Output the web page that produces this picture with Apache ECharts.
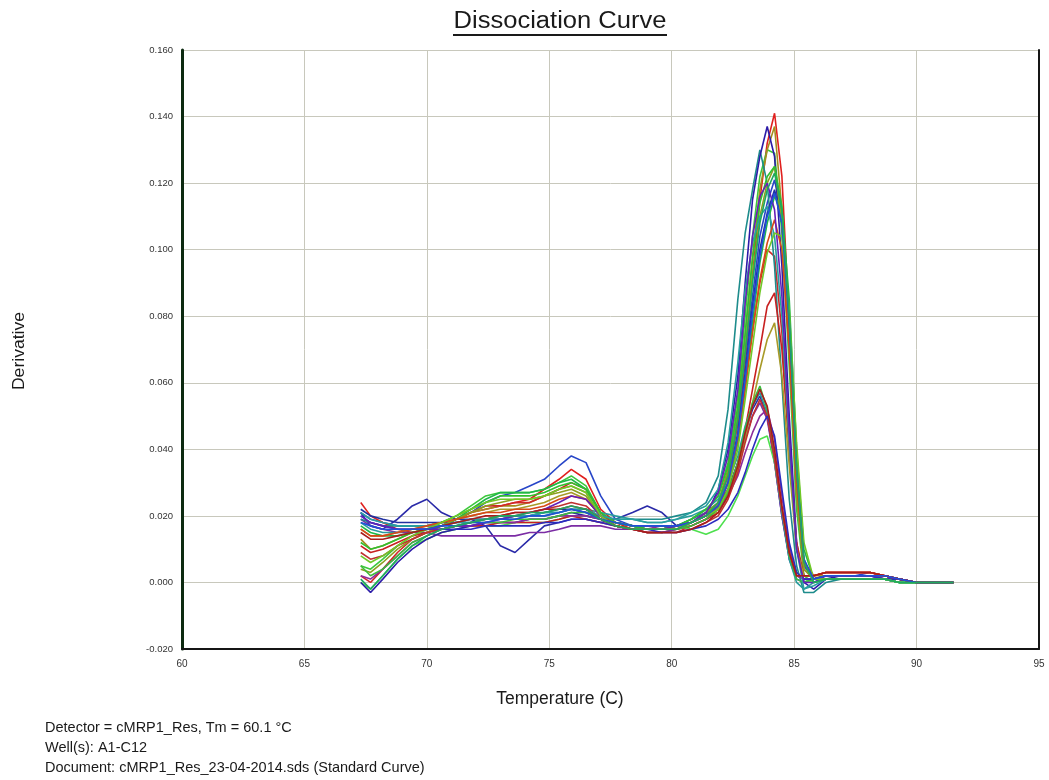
<!DOCTYPE html>
<html>
<head>
<meta charset="utf-8">
<title>Dissociation Curve</title>
<script src="https://cdn.jsdelivr.net/npm/echarts@6/dist/echarts.min.js"></script>
<style>
  html, body { margin: 0; padding: 0; background: #ffffff; }
  #chart { width: 1049px; height: 780px; }
</style>
</head>
<body>
<div id="chart"></div>
<script>
// Melt temperatures (°C) at which the derivative was sampled
const temps = [67.3, 67.7, 68.2, 68.8, 69.4, 70.0, 70.6, 71.2, 71.8, 72.4, 73.0, 73.6, 74.2, 74.8, 75.4, 75.9, 76.5, 77.1, 77.7, 78.4, 79.0, 79.6, 80.2, 80.8, 81.4,
               81.9, 82.3, 82.7, 83.0, 83.3, 83.6, 83.9, 84.2, 84.5, 84.8, 85.1, 85.4, 85.8, 86.3, 86.9, 87.5, 88.1, 88.7, 89.3, 90.0, 90.7, 91.5];

// Axis ticks
const xTicks = [60, 65, 70, 75, 80, 85, 90, 95];
const yTicks = [-0.020, 0.000, 0.020, 0.040, 0.060, 0.080, 0.100, 0.120, 0.140, 0.160];

// Derivative per well
const well01 = [0.021,0.019,0.018,0.017,0.017,0.017,0.018,0.019,0.021,0.024,0.026,0.027,0.029,0.031,0.035,0.038,0.036,0.026,0.019,0.017,0.016,0.016,0.017,0.019,0.021,
                0.024,0.032,0.048,0.066,0.086,0.104,0.114,0.121,0.110,0.075,0.030,0.005,0.001,0.002,0.002,0.002,0.003,0.002,0.001,0.000,0.000,0.000];
const well02 = [0.021,0.017,0.016,0.019,0.023,0.025,0.021,0.019,0.019,0.017,0.011,0.009,0.013,0.017,0.018,0.019,0.019,0.018,0.019,0.021,0.023,0.021,0.017,0.018,0.020,
                0.023,0.028,0.036,0.045,0.052,0.056,0.050,0.036,0.020,0.007,0.001,0.000,0.001,0.002,0.002,0.002,0.002,0.001,0.001,0.000,0.000,0.000];
const well03 = [0.024,0.020,0.018,0.016,0.015,0.016,0.017,0.019,0.021,0.022,0.023,0.024,0.025,0.028,0.031,0.034,0.031,0.022,0.018,0.016,0.015,0.015,0.016,0.018,0.020,
                0.024,0.032,0.048,0.068,0.092,0.115,0.132,0.141,0.122,0.078,0.030,0.006,0.002,0.003,0.003,0.003,0.003,0.002,0.001,0.000,0.000,0.000];
const well04 = [0.005,0.004,0.007,0.011,0.014,0.016,0.018,0.020,0.023,0.026,0.027,0.027,0.027,0.028,0.030,0.032,0.029,0.021,0.017,0.016,0.015,0.015,0.016,0.018,0.021,
                0.026,0.036,0.056,0.080,0.104,0.122,0.130,0.129,0.105,0.065,0.022,0.002,0.000,0.001,0.001,0.001,0.001,0.001,0.000,0.000,0.000,0.000];
const well05 = [0.013,0.010,0.011,0.013,0.015,0.016,0.017,0.019,0.021,0.022,0.023,0.023,0.024,0.026,0.028,0.029,0.027,0.020,0.017,0.016,0.016,0.016,0.017,0.018,0.021,
                0.024,0.034,0.052,0.074,0.098,0.118,0.130,0.137,0.112,0.070,0.026,0.004,0.001,0.002,0.002,0.002,0.002,0.002,0.001,0.000,0.000,0.000];
const well06 = [0.002,0.000,0.004,0.009,0.013,0.015,0.017,0.019,0.021,0.023,0.023,0.024,0.024,0.026,0.028,0.030,0.028,0.021,0.017,0.016,0.015,0.015,0.015,0.017,0.019,
                0.022,0.030,0.044,0.060,0.076,0.090,0.100,0.098,0.075,0.040,0.010,0.002,0.002,0.003,0.003,0.003,0.003,0.002,0.001,0.000,0.000,0.000];
const well07 = [0.019,0.017,0.016,0.015,0.015,0.015,0.014,0.014,0.014,0.014,0.014,0.014,0.015,0.015,0.016,0.017,0.017,0.017,0.016,0.016,0.015,0.015,0.016,0.017,0.019,
                0.021,0.026,0.034,0.043,0.050,0.054,0.049,0.036,0.020,0.008,0.002,0.001,0.001,0.002,0.002,0.002,0.002,0.001,0.001,0.000,0.000,0.000];
const well08 = [0.019,0.018,0.017,0.017,0.017,0.017,0.018,0.018,0.018,0.019,0.019,0.019,0.020,0.020,0.021,0.022,0.021,0.020,0.019,0.019,0.019,0.019,0.020,0.021,0.024,
                0.032,0.052,0.085,0.105,0.118,0.130,0.120,0.095,0.060,0.025,0.005,-0.003,-0.003,0.000,0.001,0.001,0.001,0.001,0.000,0.000,0.000,0.000];
const well09 = [0.000,-0.002,0.002,0.007,0.011,0.013,0.015,0.016,0.017,0.017,0.017,0.018,0.018,0.018,0.019,0.020,0.020,0.019,0.018,0.017,0.017,0.017,0.017,0.016,0.0145,
                0.016,0.020,0.026,0.032,0.038,0.043,0.044,0.036,0.022,0.010,0.003,0.001,0.000,0.001,0.001,0.001,0.001,0.001,0.000,0.000,0.000,0.000];
const well10 = [0.000,-0.003,0.001,0.006,0.010,0.013,0.015,0.016,0.017,0.018,0.018,0.018,0.019,0.019,0.020,0.021,0.020,0.019,0.018,0.017,0.016,0.016,0.017,0.018,0.020,
                0.028,0.040,0.062,0.090,0.115,0.128,0.137,0.128,0.095,0.050,0.012,0.000,-0.002,0.001,0.002,0.002,0.002,0.002,0.001,0.000,0.000,0.000];
const well11 = [0.011,0.009,0.010,0.012,0.014,0.015,0.016,0.017,0.017,0.017,0.018,0.018,0.018,0.018,0.019,0.020,0.019,0.018,0.017,0.016,0.016,0.016,0.016,0.017,0.019,
                0.021,0.027,0.036,0.046,0.058,0.070,0.083,0.087,0.070,0.040,0.012,0.002,0.002,0.003,0.003,0.003,0.003,0.002,0.001,0.000,0.000,0.000];
const well12 = [0.022,0.020,0.019,0.018,0.018,0.018,0.018,0.018,0.019,0.019,0.019,0.020,0.020,0.021,0.022,0.022,0.021,0.019,0.018,0.017,0.017,0.017,0.017,0.018,0.020,
                0.023,0.030,0.045,0.063,0.083,0.100,0.111,0.118,0.108,0.074,0.030,0.006,0.001,0.002,0.002,0.002,0.002,0.002,0.001,0.000,0.000,0.000];
const well13 = [0.017,0.015,0.014,0.014,0.015,0.016,0.017,0.019,0.022,0.025,0.027,0.027,0.027,0.028,0.030,0.031,0.028,0.021,0.018,0.017,0.016,0.016,0.017,0.019,0.022,
                0.022,0.028,0.042,0.058,0.078,0.096,0.108,0.116,0.112,0.085,0.040,0.010,0.001,0.001,0.001,0.001,0.001,0.001,0.000,0.000,0.000,0.000];
const well14 = [0.016,0.014,0.014,0.015,0.016,0.017,0.018,0.019,0.020,0.021,0.022,0.022,0.023,0.024,0.026,0.027,0.025,0.020,0.017,0.016,0.016,0.016,0.016,0.018,0.020,
                0.021,0.026,0.034,0.043,0.054,0.064,0.073,0.078,0.062,0.035,0.010,0.002,0.002,0.002,0.002,0.002,0.002,0.002,0.001,0.000,0.000,0.000];
const well15 = [0.002,0.001,0.004,0.008,0.012,0.014,0.016,0.017,0.017,0.018,0.018,0.018,0.019,0.019,0.020,0.020,0.020,0.019,0.018,0.017,0.017,0.016,0.017,0.018,0.021,
                0.022,0.026,0.032,0.039,0.045,0.050,0.052,0.043,0.026,0.011,0.002,0.001,0.001,0.002,0.002,0.002,0.002,0.001,0.001,0.000,0.000,0.000];
const well16 = [0.004,0.003,0.006,0.010,0.013,0.015,0.017,0.019,0.021,0.023,0.024,0.025,0.025,0.026,0.027,0.028,0.026,0.020,0.017,0.016,0.016,0.016,0.017,0.018,0.021,
                0.024,0.033,0.050,0.070,0.092,0.110,0.120,0.125,0.108,0.070,0.026,0.004,0.001,0.002,0.002,0.002,0.002,0.002,0.001,0.000,0.000,0.000];
const well17 = [0.018,0.016,0.015,0.015,0.016,0.016,0.017,0.018,0.019,0.019,0.020,0.020,0.020,0.021,0.021,0.022,0.022,0.021,0.020,0.019,0.018,0.018,0.019,0.020,0.022,
                0.025,0.030,0.038,0.047,0.053,0.057,0.051,0.037,0.021,0.007,0.000,-0.002,0.000,0.001,0.001,0.001,0.001,0.001,0.000,0.000,0.000,0.000];
const well18 = [0.005,0.002,0.004,0.008,0.012,0.014,0.016,0.017,0.018,0.018,0.018,0.019,0.019,0.019,0.020,0.021,0.021,0.019,0.018,0.017,0.016,0.016,0.016,0.017,0.019,
                0.022,0.027,0.036,0.046,0.054,0.059,0.052,0.038,0.022,0.008,0.001,0.000,0.001,0.001,0.001,0.001,0.001,0.001,0.000,0.000,0.000,0.000];
const well19 = [0.009,0.007,0.008,0.011,0.013,0.015,0.016,0.017,0.018,0.019,0.020,0.021,0.021,0.022,0.023,0.024,0.023,0.019,0.017,0.016,0.015,0.015,0.015,0.016,0.018,
                0.020,0.025,0.033,0.042,0.050,0.055,0.050,0.037,0.022,0.009,0.002,0.002,0.002,0.003,0.003,0.003,0.003,0.002,0.001,0.000,0.000,0.000];
const well20 = [0.020,0.018,0.017,0.016,0.016,0.016,0.016,0.016,0.016,0.017,0.017,0.017,0.017,0.018,0.018,0.019,0.019,0.018,0.017,0.016,0.016,0.015,0.015,0.016,0.017,
                0.019,0.022,0.027,0.033,0.040,0.046,0.050,0.044,0.028,0.012,0.003,0.001,0.001,0.002,0.002,0.002,0.002,0.001,0.001,0.000,0.000,0.000];
const well21 = [0.012,0.010,0.011,0.013,0.015,0.016,0.018,0.020,0.022,0.024,0.026,0.026,0.026,0.027,0.029,0.030,0.028,0.021,0.018,0.017,0.016,0.016,0.017,0.019,0.022,
                0.026,0.035,0.053,0.075,0.097,0.114,0.122,0.125,0.113,0.080,0.035,0.007,0.000,0.001,0.001,0.001,0.001,0.001,0.000,0.000,0.000,0.000];
const well22 = [0.021,0.019,0.018,0.017,0.017,0.017,0.017,0.018,0.018,0.019,0.019,0.020,0.020,0.021,0.021,0.022,0.022,0.020,0.019,0.019,0.018,0.018,0.019,0.021,0.023,
                0.028,0.042,0.066,0.088,0.102,0.110,0.113,0.104,0.080,0.042,0.010,-0.002,-0.001,0.001,0.001,0.001,0.001,0.001,0.000,0.000,0.000,0.000];
const well23 = [0.016,0.014,0.014,0.015,0.016,0.017,0.018,0.019,0.020,0.021,0.021,0.022,0.022,0.023,0.025,0.026,0.025,0.020,0.017,0.016,0.016,0.016,0.016,0.018,0.020,
                0.023,0.030,0.043,0.058,0.075,0.091,0.102,0.109,0.100,0.070,0.030,0.006,0.002,0.003,0.003,0.003,0.003,0.002,0.001,0.000,0.000,0.000];
const well24 = [0.020,0.018,0.017,0.016,0.016,0.016,0.016,0.017,0.017,0.018,0.019,0.020,0.021,0.022,0.024,0.026,0.025,0.020,0.017,0.016,0.016,0.016,0.017,0.018,0.021,
                0.027,0.038,0.058,0.084,0.104,0.116,0.120,0.112,0.086,0.045,0.010,0.000,0.000,0.002,0.002,0.002,0.002,0.002,0.001,0.000,0.000,0.000];
const well25 = [0.008,0.006,0.008,0.011,0.014,0.016,0.018,0.020,0.022,0.024,0.025,0.025,0.025,0.026,0.028,0.029,0.027,0.020,0.017,0.016,0.016,0.016,0.016,0.018,0.020,
                0.022,0.028,0.040,0.055,0.071,0.087,0.099,0.105,0.104,0.082,0.042,0.012,0.001,0.001,0.001,0.001,0.001,0.001,0.000,0.000,0.000,0.000];
const well26 = [0.015,0.013,0.013,0.014,0.015,0.016,0.017,0.018,0.019,0.020,0.020,0.021,0.021,0.022,0.022,0.023,0.022,0.019,0.017,0.016,0.015,0.015,0.015,0.016,0.018,
                0.021,0.026,0.035,0.045,0.053,0.058,0.053,0.040,0.023,0.009,0.002,0.002,0.002,0.003,0.003,0.003,0.003,0.002,0.001,0.000,0.000,0.000];
const well27 = [0.018,0.017,0.016,0.016,0.016,0.016,0.017,0.017,0.018,0.018,0.019,0.019,0.020,0.020,0.021,0.022,0.021,0.019,0.018,0.017,0.017,0.017,0.017,0.018,0.020,
                0.023,0.030,0.044,0.061,0.081,0.098,0.110,0.117,0.108,0.078,0.034,0.007,0.001,0.002,0.002,0.002,0.002,0.002,0.001,0.000,0.000,0.000];
const well28 = [0.001,-0.002,0.002,0.007,0.011,0.014,0.016,0.017,0.018,0.019,0.020,0.020,0.021,0.021,0.022,0.023,0.022,0.019,0.017,0.016,0.016,0.016,0.016,0.018,0.020,
                0.024,0.032,0.049,0.069,0.090,0.108,0.118,0.123,0.112,0.080,0.034,0.006,0.000,0.001,0.001,0.001,0.001,0.001,0.000,0.000,0.000,0.000];

const wells = [well01, well02, well03, well04, well05, well06, well07, well08, well09, well10, well11, well12, well13, well14,
               well15, well16, well17, well18, well19, well20, well21, well22, well23, well24, well25, well26, well27, well28];

const wellColors = ['#2846c8', '#2a2aa8', '#e0201e', '#3cc83c', '#a48c1e', '#d02828', '#7b2ca4', '#1e8c8c', '#4ee04e', '#2c1ca8',
                    '#c82020', '#2030a0', '#20b848', '#a89a28', '#8c2c9c', '#8ca020', '#289c9c', '#3cbc3c', '#c03030', '#2c2cc0',
                    '#30c030', '#28a0a0', '#d84818', '#6420b8', '#70c828', '#a81c1c', '#2050d8', '#20a860'];

const infoLines = [
  'Detector = cMRP1_Res, Tm = 60.1 °C',
  'Well(s): A1-C12',
  'Document: cMRP1_Res_23-04-2014.sds (Standard Curve)'
];

const FONT = '"Liberation Sans", Arial, sans-serif';

wells.forEach((w, i) => {
  if (w.length !== temps.length) throw new Error('well ' + (i + 1) + ' has ' + w.length + ' values');
});

const series = wells.map((w, i) => ({
  type: 'line',
  name: 'Well ' + (i + 1),
  data: temps.map((t, k) => [t, w[k]]),
  symbol: 'none',
  smooth: false,
  lineStyle: { color: wellColors[i], width: 1.6 },
  itemStyle: { color: wellColors[i] },
  emphasis: { disabled: true },
  z: 3
}));

const chart = echarts.init(document.getElementById('chart'), null, { renderer: 'canvas' });

chart.setOption({
  animation: false,
  backgroundColor: '#ffffff',
  grid: { left: 182, right: 10, top: 50, bottom: 131, containLabel: false },
  xAxis: {
    type: 'value',
    min: xTicks[0],
    max: xTicks[xTicks.length - 1],
    interval: xTicks[1] - xTicks[0],
    axisLine: { show: true, onZero: false, lineStyle: { color: '#151515', width: 2 } },
    axisTick: { show: false },
    axisLabel: { fontFamily: FONT, fontSize: 10, color: '#333', margin: 10 },
    splitLine: { show: true, lineStyle: { color: '#c8c8bc', width: 1 } }
  },
  yAxis: [{
    type: 'value',
    min: yTicks[0],
    max: yTicks[yTicks.length - 1],
    interval: yTicks[1] - yTicks[0],
    axisLine: { show: true, onZero: false, lineStyle: { color: '#0c2a10', width: 3 } },
    axisTick: { show: false },
    axisLabel: {
      fontFamily: FONT, fontSize: 9.5, color: '#333', margin: 9,
      formatter: v => v.toFixed(3)
    },
    splitLine: { show: true, lineStyle: { color: '#c8c8bc', width: 1 } }
  }, {
    type: 'value',
    position: 'right',
    min: yTicks[0],
    max: yTicks[yTicks.length - 1],
    interval: yTicks[1] - yTicks[0],
    axisLine: { show: true, onZero: false, lineStyle: { color: '#151515', width: 2 } },
    axisTick: { show: false },
    axisLabel: { show: false },
    splitLine: { show: false }
  }],
  series: series,
  graphic: [
    {
      type: 'text', x: 560, y: 22, scaleX: 1.11,
      style: { text: 'Dissociation Curve', x: 0, y: 0, align: 'center', verticalAlign: 'middle',
               font: '23px ' + FONT, fill: '#1a1a1a' }
    },
    {
      type: 'line', shape: { x1: 453, y1: 35, x2: 667, y2: 35 },
      style: { stroke: '#1a1a1a', lineWidth: 2 }
    },
    {
      type: 'text', x: 20, y: 351, rotation: Math.PI / 2, scaleX: 1.1,
      style: { text: 'Derivative', x: 0, y: 0, align: 'center', verticalAlign: 'middle',
               font: '16px ' + FONT, fill: '#1a1a1a' }
    },
    {
      type: 'text', x: 560, y: 699,
      style: { text: 'Temperature (C)', x: 0, y: 0, align: 'center', verticalAlign: 'middle',
               font: '17.5px ' + FONT, fill: '#1a1a1a' }
    },
    ...infoLines.map((s, i) => ({
      type: 'text', x: 45, y: [728, 748, 768][i],
      style: { text: s, x: 0, y: 0, align: 'left', verticalAlign: 'middle',
               font: '14.5px ' + FONT, fill: '#1a1a1a' }
    }))
  ]
});
</script>
</body>
</html>
